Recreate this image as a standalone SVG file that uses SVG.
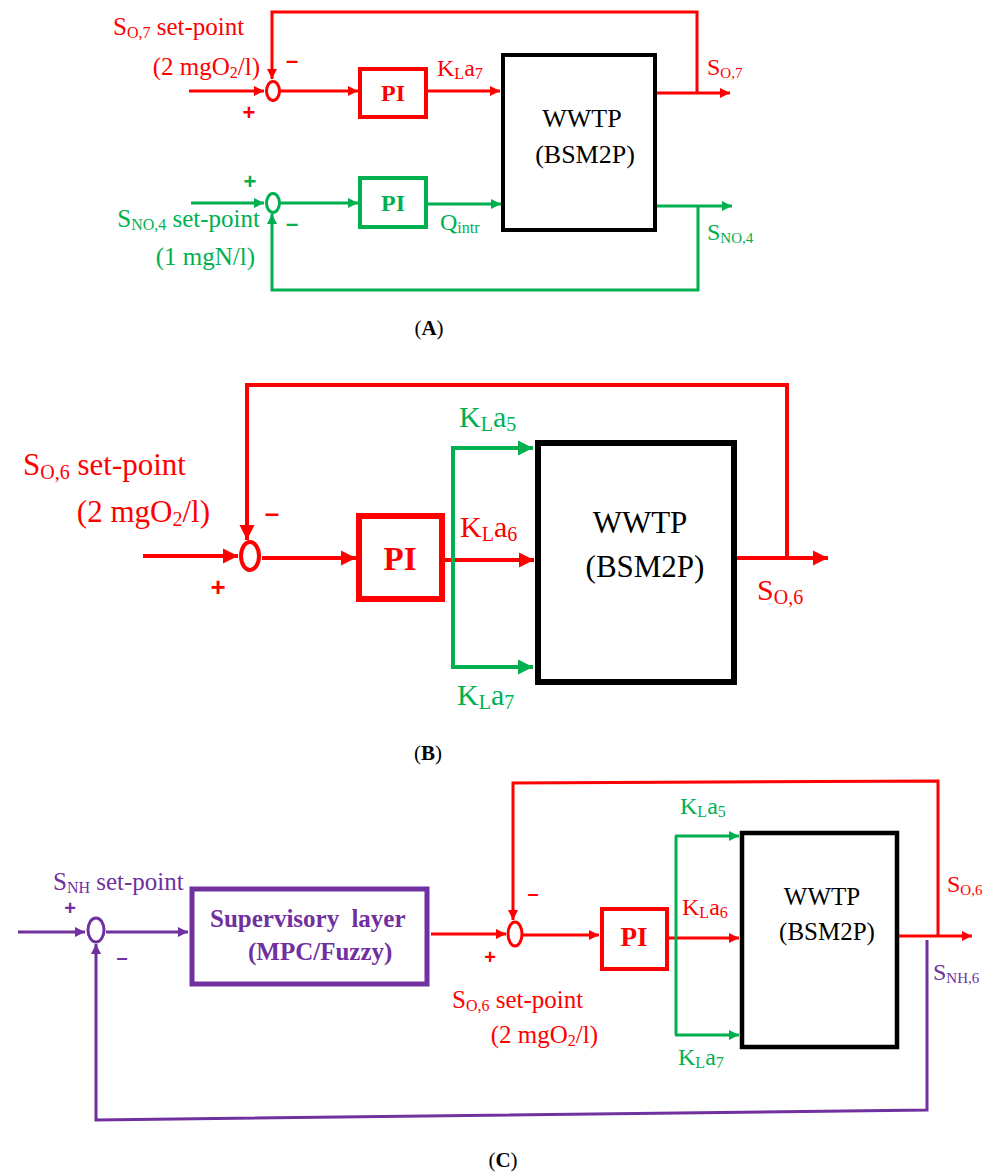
<svg xmlns="http://www.w3.org/2000/svg" width="995" height="1172" viewBox="0 0 995 1172">
<defs>
<style>
text{font-family:"Liberation Serif","Times New Roman",serif}
.r{fill:#FF0000}.g{fill:#00B050}.p{fill:#7030A0}.k{fill:#000}
.lr{fill:none;stroke:#FF0000}.lg{fill:none;stroke:#00B050}.lp{fill:none;stroke:#7030A0}.lk{fill:#fff;stroke:#000}
text.s{font-family:"Liberation Sans",Arial,sans-serif;font-weight:bold;text-anchor:middle}
.b{font-weight:bold}
.m{text-anchor:middle}
</style>
<marker id="ars" viewBox="0 0 10 10" refX="10" refY="5" markerWidth="10" markerHeight="11" orient="auto" markerUnits="userSpaceOnUse"><path d="M0,0L10,5L0,10z" fill="#FF0000"/></marker>
<marker id="arb" viewBox="0 0 10 10" refX="10" refY="5" markerWidth="15" markerHeight="16" orient="auto" markerUnits="userSpaceOnUse"><path d="M0,0L10,5L0,10z" fill="#FF0000"/></marker>
<marker id="ags" viewBox="0 0 10 10" refX="10" refY="5" markerWidth="10" markerHeight="11" orient="auto" markerUnits="userSpaceOnUse"><path d="M0,0L10,5L0,10z" fill="#00B050"/></marker>
<marker id="agb" viewBox="0 0 10 10" refX="10" refY="5" markerWidth="15" markerHeight="16" orient="auto" markerUnits="userSpaceOnUse"><path d="M0,0L10,5L0,10z" fill="#00B050"/></marker>
<marker id="aps" viewBox="0 0 10 10" refX="10" refY="5" markerWidth="10" markerHeight="11" orient="auto" markerUnits="userSpaceOnUse"><path d="M0,0L10,5L0,10z" fill="#7030A0"/></marker>
</defs>
<rect width="995" height="1172" fill="#fff"/>

<g id="connectors">
<!-- Panel A -->
<g class="lr" stroke-width="3">
<path d="M189,91H264" marker-end="url(#ars)"/>
<path d="M280,91H358" marker-end="url(#ars)"/>
<path d="M428,91H500" marker-end="url(#ars)"/>
<path d="M657,93H730" marker-end="url(#ars)"/>
<path d="M697,93V12H272V79" marker-end="url(#ars)"/>
</g>
<g class="lg" stroke-width="3">
<path d="M191,203H264" marker-end="url(#ags)"/>
<path d="M280,203H358" marker-end="url(#ags)"/>
<path d="M428,204H501" marker-end="url(#ags)"/>
<path d="M657,206H732" marker-end="url(#ags)"/>
<path d="M698,206V290H272V214" marker-end="url(#ags)"/>
</g>
<!-- Panel B -->
<g class="lr" stroke-width="4">
<path d="M143,556H238" marker-end="url(#arb)"/>
<path d="M262,558H356" marker-end="url(#arb)"/>
<path d="M445,560H534" marker-end="url(#arb)"/>
<path d="M737,558H828" marker-end="url(#arb)"/>
<path d="M787,558V385H247V540" marker-end="url(#arb)"/>
</g>
<g class="lg" stroke-width="4">
<path d="M453,448V667"/>
<path d="M451,448H533" marker-end="url(#agb)"/>
<path d="M451,667H533" marker-end="url(#agb)"/>
</g>
<!-- Panel C -->
<g class="lp" stroke-width="3">
<path d="M18,932H85" marker-end="url(#aps)"/>
<path d="M106,932H188" marker-end="url(#aps)"/>
<path d="M927,940V1110L96,1120V944" marker-end="url(#aps)"/>
</g>
<g class="lr" stroke-width="3">
<path d="M431,934H506" marker-end="url(#ars)"/>
<path d="M523,935H599" marker-end="url(#ars)"/>
<path d="M669,938H739" marker-end="url(#ars)"/>
<path d="M899,936H972" marker-end="url(#ars)"/>
<path d="M938,936V781L513,783V920" marker-end="url(#ars)"/>
</g>
<g class="lg" stroke-width="3">
<path d="M676,836V1035"/>
<path d="M675,836H739" marker-end="url(#ags)"/>
<path d="M675,1035H739" marker-end="url(#ags)"/>
</g>
</g>

<!-- Panel A nodes -->
<g id="sumA1"><ellipse cx="273" cy="91" rx="6.5" ry="9.5" fill="#fff" stroke="#FF0000" stroke-width="3"/></g>
<g id="piA1"><rect x="360" y="69" width="66" height="48" class="lr" stroke-width="4"/><text x="393" y="101" class="r b m" font-size="24">PI</text></g>
<g id="sumA2"><ellipse cx="273" cy="203" rx="6.5" ry="9.5" fill="#fff" stroke="#00B050" stroke-width="3"/></g>
<g id="piA2"><rect x="360" y="178" width="66" height="49" class="lg" stroke-width="4"/><text x="393" y="211" class="g b m" font-size="24">PI</text></g>
<g id="wwtpA"><rect x="503" y="55" width="152" height="175" class="lk" stroke-width="4"/><text x="582" y="127" class="k m" font-size="26">WWTP</text><text x="585" y="163" class="k m" font-size="26">(BSM2P)</text></g>

<!-- Panel B nodes -->
<g id="sumB"><ellipse cx="250" cy="556" rx="9" ry="14" fill="#fff" stroke="#FF0000" stroke-width="4"/></g>
<g id="piB"><rect x="359" y="516" width="83" height="83" class="lr" stroke-width="6"/><text x="400" y="570" class="r b m" font-size="33">PI</text></g>
<g id="wwtpB"><rect x="538" y="443" width="196" height="239" class="lk" stroke-width="6"/><text x="640" y="533" class="k m" font-size="31">WWTP</text><text x="645" y="577" class="k m" font-size="31">(BSM2P)</text></g>

<!-- Panel C nodes -->
<g id="sumC1"><ellipse cx="96" cy="930" rx="8" ry="12" fill="#fff" stroke="#7030A0" stroke-width="3"/></g>
<g id="supervisory"><rect x="192" y="889" width="235" height="95" class="lp" stroke-width="5"/><text x="210" y="927" class="p b" font-size="25" word-spacing="6">Supervisory layer</text><text x="248" y="960" class="p b" font-size="25">(MPC/Fuzzy)</text></g>
<g id="sumC2"><ellipse cx="515" cy="934" rx="7" ry="12" fill="#fff" stroke="#FF0000" stroke-width="3"/></g>
<g id="piC"><rect x="602" y="909" width="65" height="60" class="lr" stroke-width="4"/><text x="634" y="946" class="r b m" font-size="27">PI</text></g>
<g id="wwtpC"><rect x="742" y="833" width="155" height="214" class="lk" stroke-width="4.5"/><text x="822" y="905" class="k m" font-size="25">WWTP</text><text x="827" y="940" class="k m" font-size="25">(BSM2P)</text></g>

<g id="labels">
<!-- A -->
<text x="113" y="35" class="r" font-size="25">S<tspan font-size="16" dy="3">O,7</tspan><tspan dy="-3"> set-point</tspan></text>
<text x="260" y="75" class="r" font-size="25" text-anchor="end">(2 mgO<tspan font-size="16" dy="3">2</tspan><tspan dy="-3">/l)</tspan></text>
<text x="292" y="68" class="s r" font-size="22">–</text>
<text x="249" y="120" class="s r" font-size="22">+</text>
<text x="437" y="76" class="r" font-size="24">K<tspan font-size="16" dy="3">L</tspan><tspan dy="-3">a</tspan><tspan font-size="16" dy="3">7</tspan></text>
<text x="707" y="75" class="r" font-size="24">S<tspan font-size="15" dy="3">O,7</tspan></text>
<text x="260" y="227" class="g" font-size="25" text-anchor="end">S<tspan font-size="16" dy="3">NO,4</tspan><tspan dy="-3"> set-point</tspan></text>
<text x="255" y="265" class="g" font-size="25" text-anchor="end">(1 mgN/l)</text>
<text x="250" y="189" class="s g" font-size="22">+</text>
<text x="292" y="231" class="s g" font-size="22">–</text>
<text x="440" y="230" class="g" font-size="24">Q<tspan font-size="16" dy="3">intr</tspan></text>
<text x="707" y="240" class="g" font-size="24">S<tspan font-size="15" dy="3">NO,4</tspan></text>
<text x="429" y="335" class="k m" font-size="21">(<tspan class="b">A</tspan>)</text>
<!-- B -->
<text x="23" y="475" class="r" font-size="31">S<tspan font-size="20" dy="4">O,6</tspan><tspan dy="-4"> set-point</tspan></text>
<text x="210" y="522" class="r" font-size="31" text-anchor="end">(2 mgO<tspan font-size="20" dy="4">2</tspan><tspan dy="-4">/l)</tspan></text>
<text x="272" y="522" class="s r" font-size="26">–</text>
<text x="218" y="596" class="s r" font-size="26">+</text>
<text x="459" y="427" class="g" font-size="30">K<tspan font-size="20" dy="4">L</tspan><tspan dy="-4">a</tspan><tspan font-size="20" dy="4">5</tspan></text>
<text x="460" y="537" class="r" font-size="30">K<tspan font-size="20" dy="4">L</tspan><tspan dy="-4">a</tspan><tspan font-size="20" dy="4">6</tspan></text>
<text x="457" y="705" class="g" font-size="30">K<tspan font-size="20" dy="4">L</tspan><tspan dy="-4">a</tspan><tspan font-size="20" dy="4">7</tspan></text>
<text x="757" y="600" class="r" font-size="30">S<tspan font-size="20" dy="4">O,6</tspan></text>
<text x="428" y="760" class="k m" font-size="21">(<tspan class="b">B</tspan>)</text>
<!-- C -->
<text x="53" y="890" class="p" font-size="25">S<tspan font-size="16" dy="3">NH</tspan><tspan dy="-3"> set-point</tspan></text>
<text x="70" y="915" class="s p" font-size="20">+</text>
<text x="122" y="964" class="s p" font-size="20">–</text>
<text x="490" y="964" class="s r" font-size="20">+</text>
<text x="533" y="900" class="s r" font-size="20">–</text>
<text x="452" y="1008" class="r" font-size="25">S<tspan font-size="16" dy="3">O,6</tspan><tspan dy="-3"> set-point</tspan></text>
<text x="598" y="1043" class="r" font-size="25" text-anchor="end">(2 mgO<tspan font-size="16" dy="3">2</tspan><tspan dy="-3">/l)</tspan></text>
<text x="680" y="814" class="g" font-size="24">K<tspan font-size="16" dy="3">L</tspan><tspan dy="-3">a</tspan><tspan font-size="16" dy="3">5</tspan></text>
<text x="682" y="915" class="r" font-size="24">K<tspan font-size="16" dy="3">L</tspan><tspan dy="-3">a</tspan><tspan font-size="16" dy="3">6</tspan></text>
<text x="678" y="1065" class="g" font-size="24">K<tspan font-size="16" dy="3">L</tspan><tspan dy="-3">a</tspan><tspan font-size="16" dy="3">7</tspan></text>
<text x="947" y="892" class="r" font-size="24">S<tspan font-size="15" dy="3">O,6</tspan></text>
<text x="933" y="980" class="p" font-size="24">S<tspan font-size="15" dy="3">NH,6</tspan></text>
<text x="503" y="1167" class="k m" font-size="21">(<tspan class="b">C</tspan>)</text>
</g>
</svg>
